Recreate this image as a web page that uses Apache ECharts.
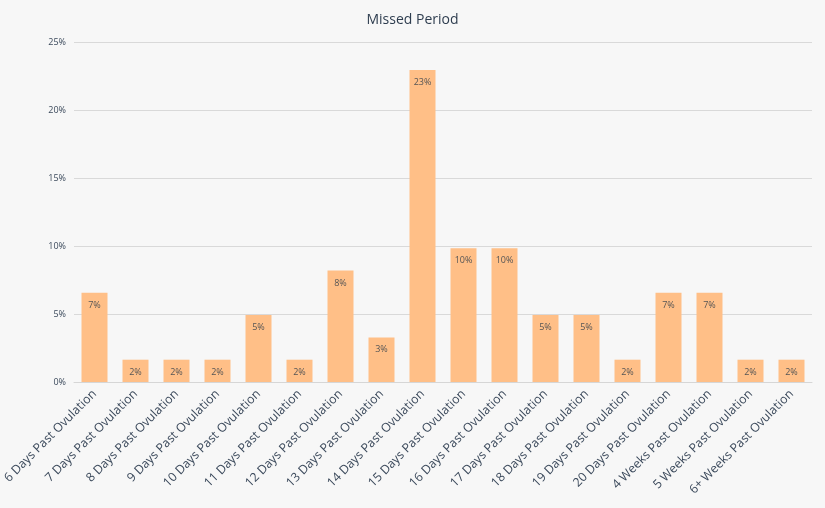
<!DOCTYPE html>
<html><head><meta charset="utf-8">
<script src="https://cdn.jsdelivr.net/npm/echarts@6/dist/echarts.min.js"></script>
<style>html,body{margin:0;padding:0;background:#f7f7f7}#c{width:825px;height:508px}</style>
</head><body><div id="c"></div>
<script>
var categories = ["6 Days Past Ovulation","7 Days Past Ovulation","8 Days Past Ovulation","9 Days Past Ovulation","10 Days Past Ovulation","11 Days Past Ovulation","12 Days Past Ovulation","13 Days Past Ovulation","14 Days Past Ovulation","15 Days Past Ovulation","16 Days Past Ovulation","17 Days Past Ovulation","18 Days Past Ovulation","19 Days Past Ovulation","20 Days Past Ovulation","4 Weeks Past Ovulation","5 Weeks Past Ovulation","6+ Weeks Past Ovulation"];
var values = [6.56,1.64,1.64,1.64,4.92,1.64,8.20,3.28,22.95,9.84,9.84,4.92,4.92,1.64,6.56,6.56,1.64,1.64];
var chart = echarts.init(document.getElementById('c'));
chart.setOption({
  backgroundColor:'#f7f7f7',
  animation:false,
  title:{text:'Missed Period',left:'center',top:8,textStyle:{fontFamily:'Open Sans',fontSize:14,fontWeight:'normal',color:'#2e3d4f'}},
  grid:{left:74,right:13,top:42,bottom:126,containLabel:false,outerBoundsMode:'none'},
  xAxis:{type:'category',data:categories,
    axisLine:{show:true,lineStyle:{color:'#d6d6d6'}},axisTick:{show:false},
    axisLabel:{rotate:45,interval:0,margin:10,fontFamily:'Open Sans',fontSize:12.3,color:'#3c4a5c'}},
  yAxis:{type:'value',min:0,max:25,interval:5,
    axisLabel:{formatter:'{value}%',fontFamily:'Open Sans',fontSize:9,color:'#3c4a5c'},
    axisLine:{show:false},axisTick:{show:false},
    splitLine:{lineStyle:{color:'#d9d9d9'}}},
  series:[{type:'bar',data:values,barWidth:26,
    itemStyle:{color:'#ffbf87'},
    label:{show:true,position:'insideTop',distance:8,fontFamily:'Open Sans',fontSize:9,color:'#555',
      formatter:function(p){return Math.round(p.value)+'%';}}}]
});
</script></body></html>
